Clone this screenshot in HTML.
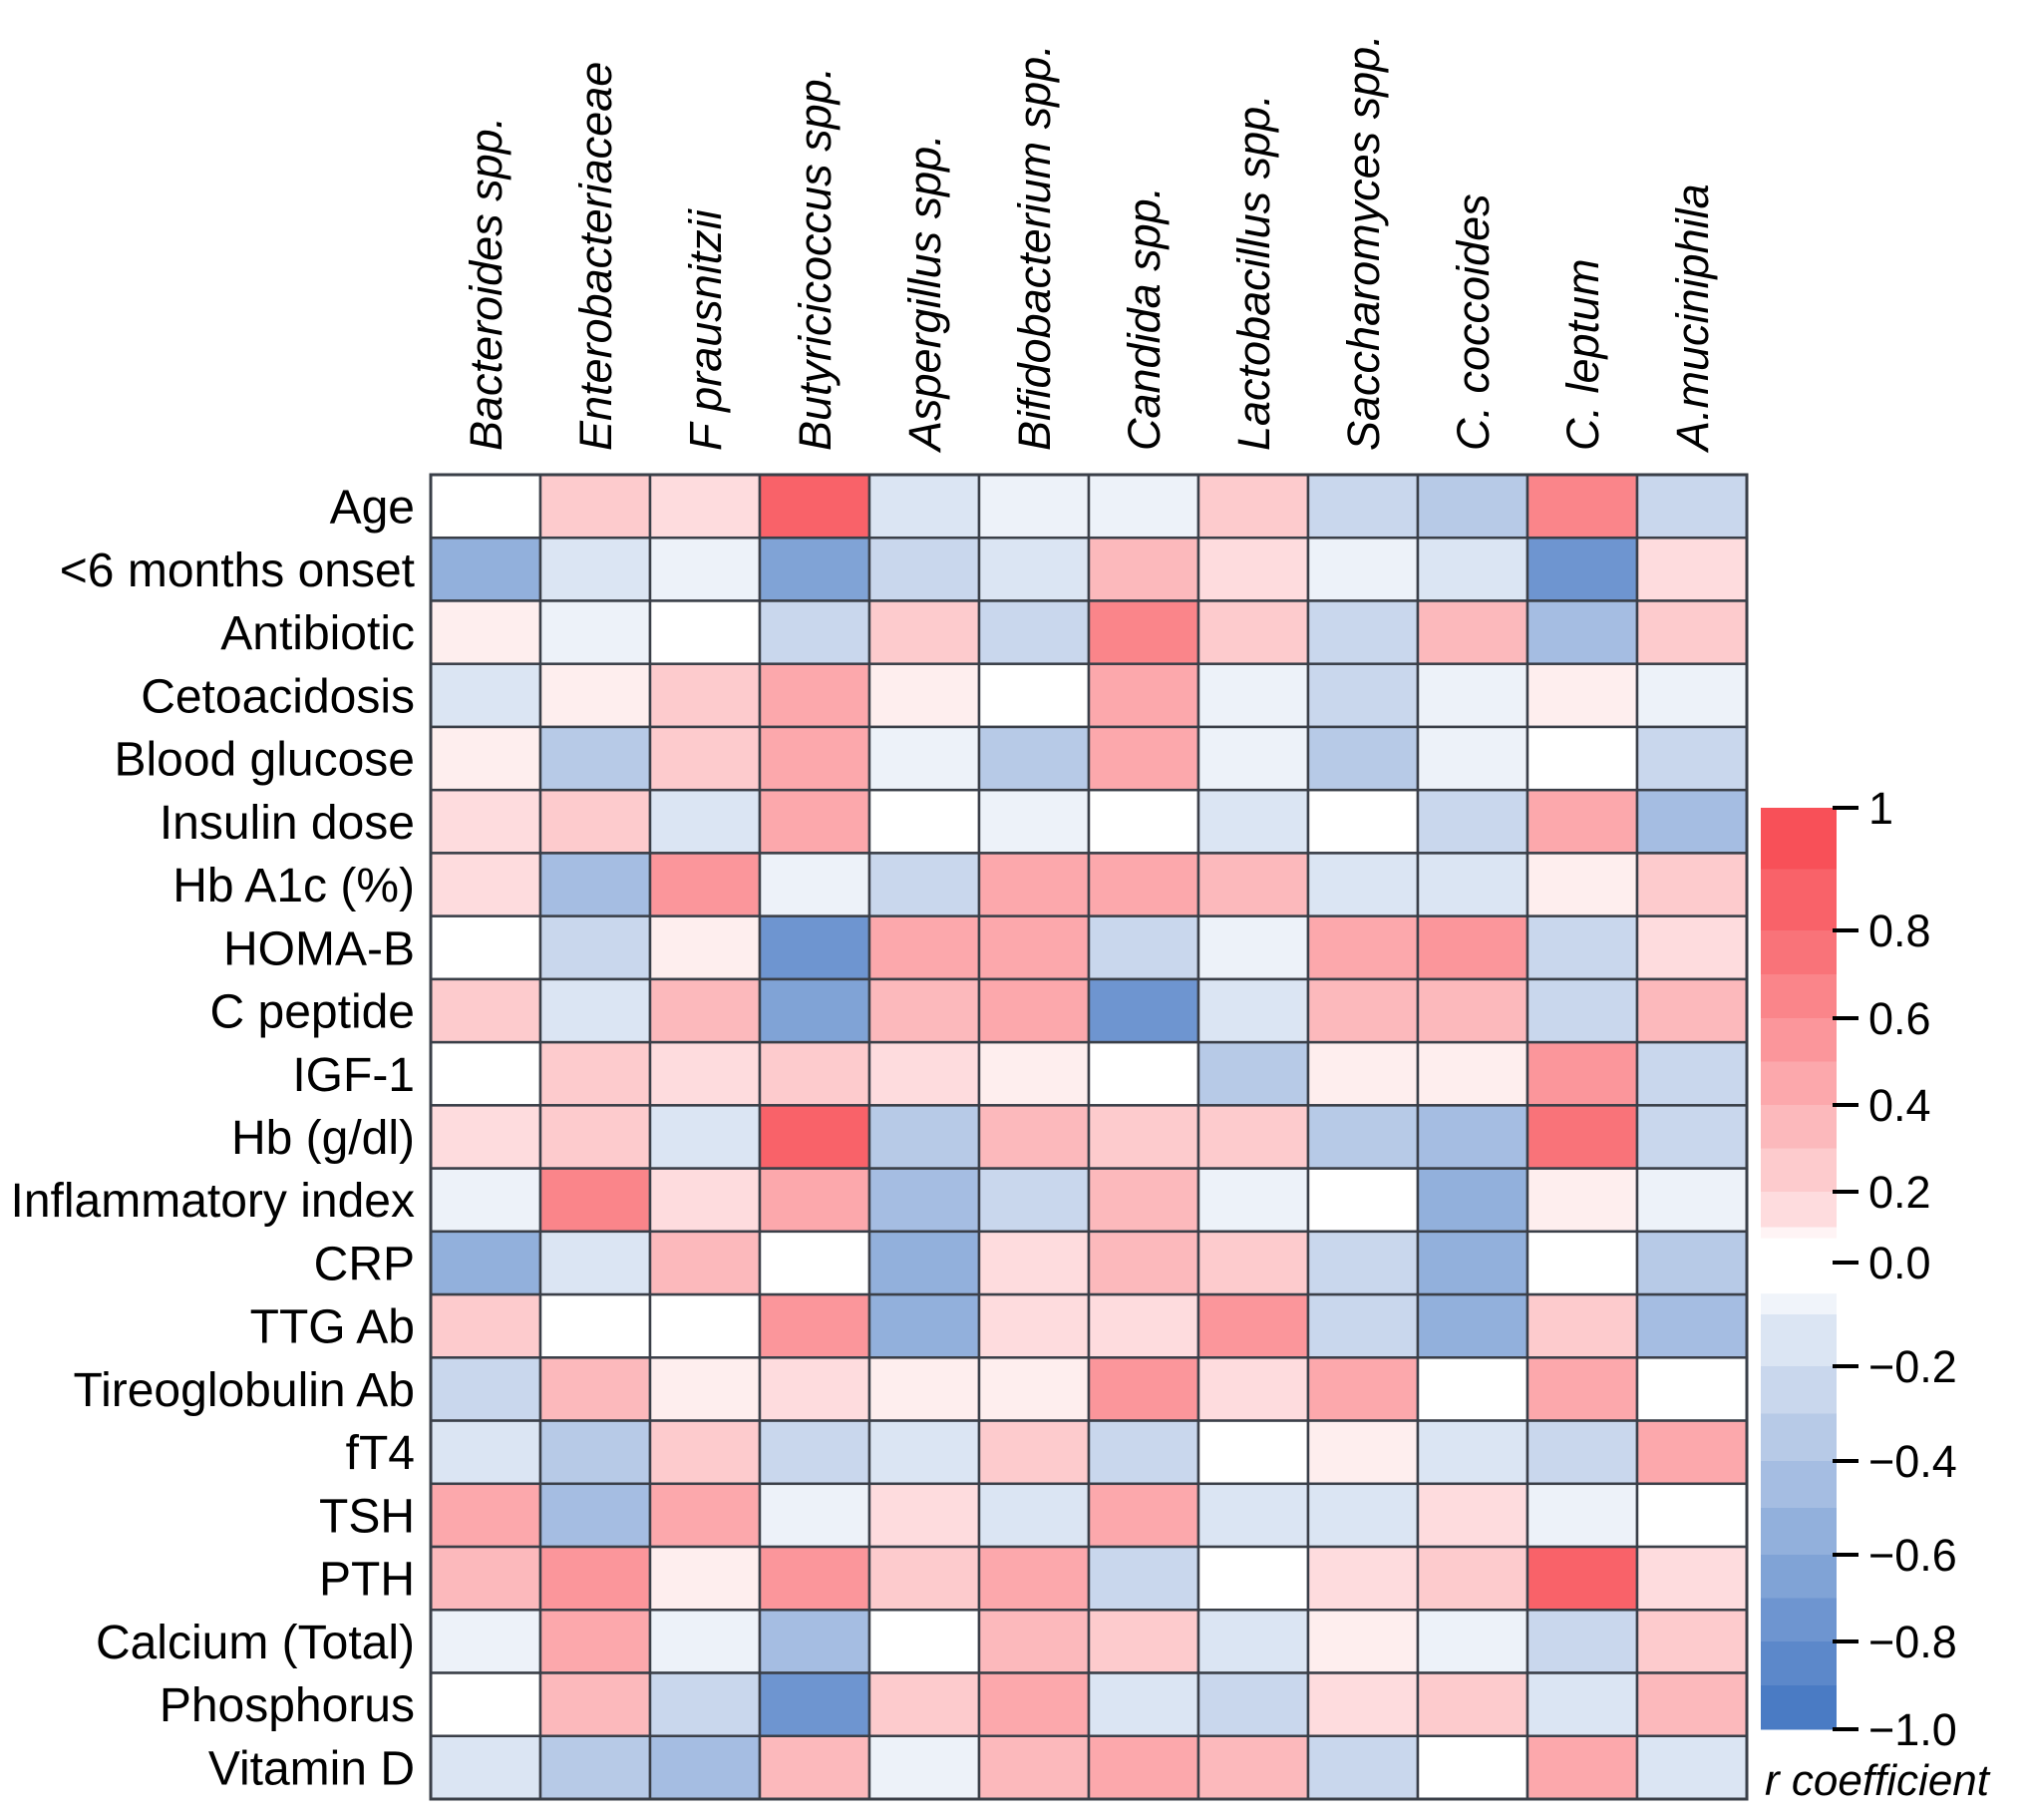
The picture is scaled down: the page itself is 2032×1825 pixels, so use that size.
<!DOCTYPE html>
<html><head><meta charset="utf-8"><style>
html,body{margin:0;padding:0;background:#fff;}
svg{display:block;font-family:"Liberation Sans",Arial,sans-serif;}
</style></head><body>
<svg id="chart" width="2032" height="1825" viewBox="0 0 2032 1825" xmlns="http://www.w3.org/2000/svg"></svg>
<script>
const columns = ["Bacteroides spp.","Enterobacteriaceae","F prausnitzii","Butyricicoccus spp.","Aspergillus spp.","Bifidobacterium spp.","Candida spp.","Lactobacillus spp.","Saccharomyces spp.","C. coccoides","C. leptum","A.muciniphila"];
const rows = ["Age","<6 months onset","Antibiotic","Cetoacidosis","Blood glucose","Insulin dose","Hb A1c (%)","HOMA-B","C peptide","IGF-1","Hb (g/dl)","Inflammatory index","CRP","TTG Ab","Tireoglobulin Ab","fT4","TSH","PTH","Calcium (Total)","Phosphorus","Vitamin D"];
const values = [
[-0.05,0.3,0.15,0.9,-0.25,-0.12,-0.12,0.3,-0.3,-0.4,0.65,-0.35],
[-0.65,-0.2,-0.15,-0.7,-0.35,-0.25,0.4,0.15,-0.1,-0.2,-0.85,0.15],
[0.08,-0.12,0,-0.3,0.3,-0.35,0.65,0.25,-0.3,0.4,-0.5,0.3],
[-0.2,0.05,0.3,0.45,0.05,0.03,0.5,-0.15,-0.3,-0.1,0.1,-0.1],
[0.08,-0.45,0.3,0.5,-0.1,-0.45,0.45,-0.1,-0.4,-0.15,0,-0.35],
[0.15,0.25,-0.2,0.5,0,-0.15,-0.05,-0.25,-0.03,-0.3,0.45,-0.5],
[0.2,-0.5,0.6,-0.1,-0.3,0.45,0.45,0.4,-0.2,-0.25,0.1,0.3],
[0.02,-0.3,0.1,-0.85,0.5,0.5,-0.3,-0.15,0.45,0.55,-0.3,0.2],
[0.25,-0.25,0.35,-0.75,0.4,0.45,-0.8,-0.25,0.35,0.35,-0.3,0.4],
[-0.05,0.3,0.2,0.25,0.15,0.08,0.02,-0.45,0.05,0.1,0.6,-0.35],
[0.15,0.25,-0.25,0.9,-0.45,0.35,0.3,0.3,-0.4,-0.5,0.75,-0.35],
[-0.15,0.65,0.2,0.45,-0.55,-0.3,0.4,-0.08,0.02,-0.65,0.05,-0.15],
[-0.65,-0.25,0.4,0.02,-0.6,0.15,0.35,0.3,-0.3,-0.65,-0.05,-0.4],
[0.25,0.02,-0.05,0.55,-0.6,0.2,0.2,0.6,-0.35,-0.65,0.3,-0.5],
[-0.35,0.35,0.05,0.15,0.05,0.1,0.55,0.15,0.5,0,0.45,0],
[-0.2,-0.4,0.3,-0.35,-0.2,0.25,-0.3,0,0.05,-0.2,-0.3,0.5],
[0.45,-0.5,0.45,-0.1,0.2,-0.2,0.45,-0.25,-0.25,0.15,-0.15,0.02],
[0.4,0.55,0.05,0.55,0.25,0.45,-0.35,-0.05,0.15,0.25,0.85,0.2],
[-0.08,0.45,-0.15,-0.5,0.02,0.4,0.3,-0.2,0.05,-0.15,-0.35,0.25],
[0.02,0.4,-0.35,-0.8,0.3,0.5,-0.25,-0.35,0.2,0.25,-0.25,0.4],
[-0.2,-0.4,-0.5,0.4,-0.15,0.35,0.45,0.4,-0.3,0,0.5,-0.2]
];
const tickValues = [1,0.8,0.6,0.4,0.2,0,-0.2,-0.4,-0.6,-0.8,-1];
const tickLabels = ["1","0.8","0.6","0.4","0.2","0.0","\u22120.2","\u22120.4","\u22120.6","\u22120.8","\u22121.0"];

const NS="http://www.w3.org/2000/svg";
const svg=document.getElementById('chart');
const L=432,T=476,R=1752,B=1804;
const cw=(R-L)/columns.length, rh=(B-T)/rows.length;
const xScale=i=>L+i*cw, yScale=i=>T+i*rh;
// colorbar (non-uniform legend axis, layout only)
const cbX=1766,cbW=76,cbTop=804,cbBot=1740;
const cbLayout=[[1,810],[0.8,933],[0.6,1021],[0.4,1108],[0.2,1195],[0,1266],[-0.2,1370],[-0.4,1465],[-0.6,1559],[-0.8,1646],[-1,1734]];
function cbY(v){
  for(let i=0;i<cbLayout.length-1;i++){
    const [v0,p0]=cbLayout[i],[v1,p1]=cbLayout[i+1];
    if(v<=v0&&v>=v1)return p0+(v0-v)/(v0-v1)*(p1-p0);
  }
  return v>1?cbLayout[0][1]:cbLayout[cbLayout.length-1][1];
}
function color(v){
  v=Math.max(-1,Math.min(1,Math.round(v*10)/10));
  let c = v>=0 ? [248,80,88] : [74,123,196];
  const t=Math.abs(v);
  const m=c.map(x=>Math.round(255+(x-255)*t));
  return `rgb(${m[0]},${m[1]},${m[2]})`;
}
function el(tag,attrs,parent){const e=document.createElementNS(NS,tag);for(const k in attrs)e.setAttribute(k,attrs[k]);(parent||svg).appendChild(e);return e;}

const gCells=el('g',{});


values.forEach((row,r)=>row.forEach((v,c)=>{
  const rect=el('rect',{x:xScale(c),y:yScale(r),width:cw,height:rh,fill:color(v),stroke:'#3a3f48','stroke-width':2.5},gCells);
  
  
}));
const border=el('rect',{x:L,y:T,width:R-L,height:B-T,fill:'none',stroke:'#3a3f48','stroke-width':3});



rows.forEach((name,r)=>{
  const t=el('text',{x:416,y:yScale(r)+rh/2+17,'text-anchor':'end','font-size':48,fill:'#000'});
  t.textContent=name;
  
  
});
columns.forEach((name,c)=>{
  const cx=xScale(c)+cw/2+16;
  const t=el('text',{x:0,y:0,transform:`translate(${cx},452) rotate(-90)`,'font-size':45,'font-style':'italic',fill:'#000'});
  t.textContent=name;
  
  
});

// colorbar bins
const gcb=el('g',{});


for(let i=0;i<20;i++){
  const vTop=1-i*0.1, vBot=vTop-0.1, vMid=vTop-0.05;
  let fill;
  if(Math.abs(vMid)<0.06) fill = vMid>0 ? 'rgb(255,244,245)' : 'rgb(240,244,250)';
  else fill=color(vMid>0?vMid+0.05:vMid-0.05);
  let y0=cbY(vTop), y1=cbY(vBot);
  if(vMid>0&&vMid<0.06) y1=cbY(0.07);
  if(vMid<0&&vMid>-0.06) y0=cbY(-0.06);
  const rect=el('rect',{x:cbX,y:y0,width:cbW,height:y1-y0+0.5,fill:fill},gcb);
  
  
}
tickValues.forEach((v,i)=>{
  const y=cbY(v);
  const ln=el('line',{x1:cbX+cbW-4,x2:cbX+cbW+22,y1:y,y2:y,stroke:'#000','stroke-width':4},gcb);
  
  
  const t=el('text',{x:cbX+cbW+32,y:y+16,'font-size':45,fill:'#000'},gcb);
  t.textContent=tickLabels[i];
  
  
});
const ct=el('text',{x:1770,y:1800,'font-size':44,'font-style':'italic',fill:'#000'});
ct.textContent='r coefficient';


</script>
</body></html>
